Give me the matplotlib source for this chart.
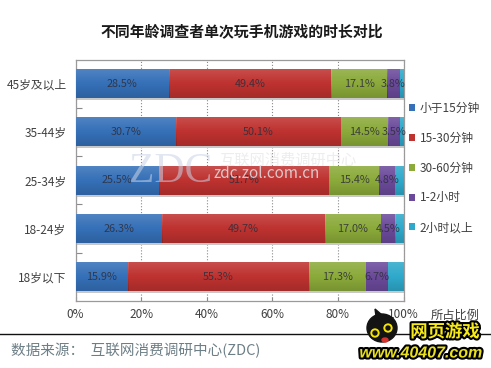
import numpy as np
import matplotlib
matplotlib.use('Agg')
import matplotlib.pyplot as plt
import matplotlib.patheffects as pe
from matplotlib.patches import Ellipse, Circle, Polygon

plt.rcParams['font.family'] = ['Noto Sans CJK SC', 'DejaVu Sans']

title = '不同年龄调查者单次玩手机游戏的时长对比'
categories = ['45岁及以上', '35-44岁', '25-34岁', '18-24岁', '18岁以下']
series_names = ['小于15分钟', '15-30分钟', '30-60分钟', '1-2小时', '2小时以上']
under15 = [28.5, 30.7, 25.5, 26.3, 15.9]
m15_30 = [49.4, 50.1, 51.7, 49.7, 55.3]
m30_60 = [17.1, 14.5, 15.4, 17.0, 17.3]
h1_2 = [3.8, 3.5, 4.8, 4.5, 6.7]
over2h = [1.2, 1.2, 2.6, 2.5, 4.8]
series = [under15, m15_30, m30_60, h1_2, over2h]
labelled = [True, True, True, True, False]
colors = ['#3570B8', '#BE3230', '#8BAA3A', '#6B4A9B', '#2FA9CB']
xticks = [0, 20, 40, 60, 80, 100]
xlabels = ['0%', '20%', '40%', '60%', '80%', '100%']

W, H = 491, 368
fig = plt.figure(figsize=(W / 100, H / 100), dpi=100, facecolor='white')
L, R, T, B = 75.5, 403.5, 59.5, 301
ax = fig.add_axes([L / W, 1 - B / H, (R - L) / W, (B - T) / H])

y = np.arange(len(categories))
left = np.zeros(len(categories))
grad = np.linspace(0, 1, 64)
shade = np.zeros((64, 1, 4))
shade[..., :3] = (grad < 0.5)[:, None, None].astype(float)
shade[..., 3] = (np.abs(grad - 0.5) * 0.28)[:, None]
text_c = '#404040'
handles = []
for vals, name, col, lab in zip(series, series_names, colors, labelled):
    bars = ax.barh(y, vals, left=left, height=0.6, color=col, label=name, zorder=3)
    handles.append(bars)
    for b, v in zip(bars, vals):
        x0, w = b.get_x(), b.get_width()
        y0, h = b.get_y(), b.get_height()
        ax.imshow(shade, extent=(x0, x0 + w, y0 + h, y0), aspect='auto', zorder=3.5,
                  interpolation='bilinear')
        if lab:
            ax.text(x0 + w / 2, y0 + h / 2, f'{v:.1f}%', ha='center', va='center',
                    fontsize=7.8, color='#2e2e3a', alpha=0.85, zorder=5)
    left += np.array(vals)
# soft shadow underneath each full stacked bar
ax.barh(y + 0.315, left, height=0.05, color='#c8c8c8', zorder=2)

ax.set_xlim(0, 100)
ax.set_ylim(len(categories) - 0.5, -0.5)
ax.set_xticks(xticks)
ax.set_xticklabels(xlabels, fontsize=8.5, color=text_c)
ax.set_yticks(y)
ax.set_yticklabels(categories, fontsize=8.5, color=text_c)
ax.tick_params(axis='y', length=0, pad=6.5)
ax.set_yticks(y[:-1] + 0.5, minor=True)
ax.tick_params(axis='y', which='minor', direction='in', length=4, color='#8a8a8a', width=0.8)
ax.tick_params(axis='x', direction='in', length=3, color='#8a8a8a', width=0.8, pad=5)
ax.xaxis.grid(True, linestyle=':', color='#8a8a8a', linewidth=0.8, zorder=1)
ax.set_axisbelow(True)
for s in ax.spines.values():
    s.set_color('#9a9a9a')
    s.set_linewidth(0.9)

fig.text(242 / W, 1 - 31 / H, title, ha='center', va='center', fontsize=10.7,
         fontweight='bold', color='#1a1a1a')
fig.text(455 / W, 1 - 315 / H, '所占比例', ha='center', va='center', fontsize=8.8, color=text_c)

leg = ax.legend(handles=handles, loc='upper left', bbox_to_anchor=(409 / W, 1 - 102 / H),
                bbox_transform=fig.transFigure, frameon=False, fontsize=8.5,
                handlelength=0.55, handleheight=0.55, handletextpad=0.35,
                labelspacing=1.42, borderpad=0, borderaxespad=0, labelcolor=text_c)

# watermark
fig.text(171 / W, 1 - 172 / H, 'ZDC', fontsize=30, family='Liberation Serif', color='#c9d3e6',
         alpha=0.55, ha='center', va='center', zorder=6)
fig.text(267 / W, 1 - 174 / H, 'zdc.zol.com.cn', fontsize=11, color='#e8e8ea', alpha=0.8,
         ha='center', va='center', zorder=6)
fig.text(288 / W, 1 - 160 / H, '互联网消费调研中心', fontsize=11, color='#dcdcdc', alpha=0.5,
         ha='center', va='center', zorder=6)

# footer
ov = fig.add_axes([0, 0, 1, 1], zorder=10)
ov.set_xlim(0, W)
ov.set_ylim(H, 0)
ov.axis('off')
ov.plot([0, W], [334, 334], color='#111111', lw=1.0)
ov.text(11, 351, '数据来源：  互联网消费调研中心(ZDC)', fontsize=10.5, color='#6d7f86', va='center')

# logo
stroke = [pe.withStroke(linewidth=3, foreground='black')]
ov.add_patch(Ellipse((382, 328), 30, 28, color='#141414', zorder=2))
ov.add_patch(Polygon([[376, 316], [375, 309], [382, 315]], color='#141414', zorder=2))
for cx, cy in [(375, 333), (388, 328)]:
    ov.add_patch(Circle((cx, cy), 5.5, facecolor='#f5e400', edgecolor='#141414', lw=1.2, zorder=3))
    ov.add_patch(Circle((cx, cy), 2, color='#141414', zorder=4))
ov.add_patch(Ellipse((385, 340), 6, 4, color='#d8322e', zorder=4))
ov.text(445, 332, '网页游戏', fontsize=12.5, fontweight='bold', color='#f7ea1a', ha='center',
        va='center', path_effects=stroke, zorder=5)
ov.text(421, 353, 'www.40407.com', fontsize=11.5, fontweight='bold', family='Liberation Sans',
        style='italic', color='#e8e020', ha='center', va='center', path_effects=stroke, zorder=5)

fig.savefig('out.png', dpi=100, facecolor='white')
